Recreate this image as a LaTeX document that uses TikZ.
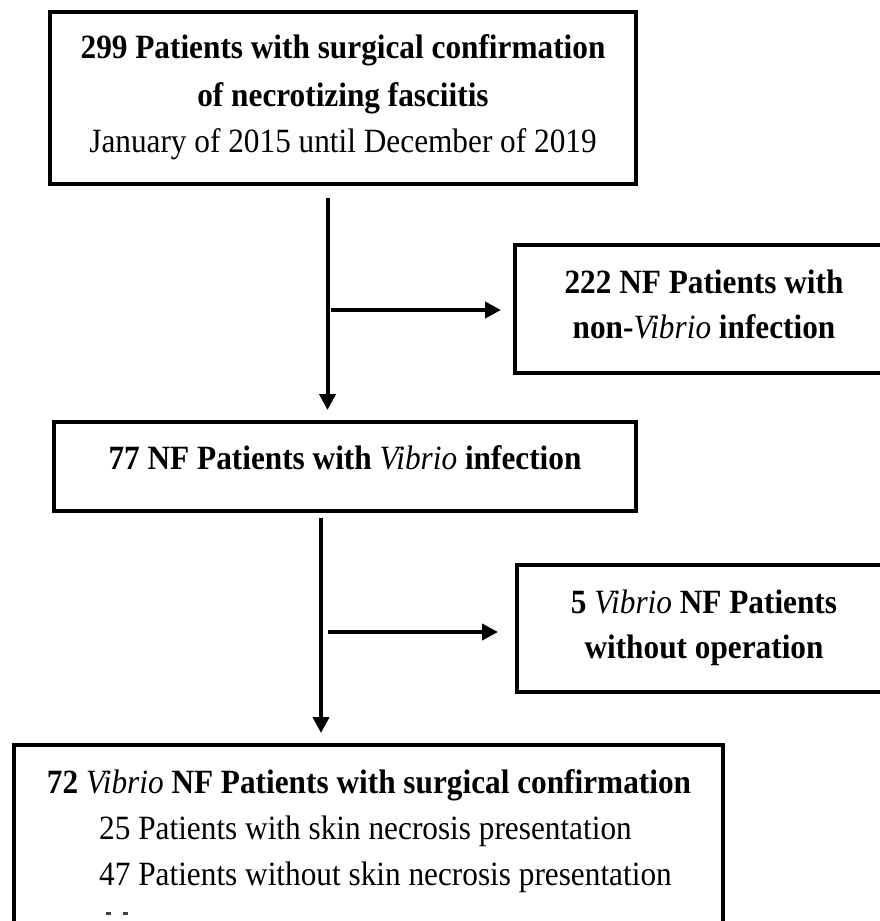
\documentclass[tikz,border=0pt]{standalone}
\usepackage{fontspec}
\setmainfont{Liberation Serif}[FakeStretch=0.92]
\usetikzlibrary{arrows.meta}
\tikzset{
  box/.style={draw=black, line width=4pt, inner sep=0pt, fill=white},
  txt/.style={anchor=base, inner sep=0pt, font=\fontsize{34}{46}\selectfont},
  btxt/.style={txt, font=\fontsize{34}{46}\selectfont\bfseries},
  arr/.style={draw=black, line width=4pt, -{Triangle[length=16pt,width=16pt]}, shorten >=#1},
}
\newcommand{\vib}{{\mdseries\itshape Vibrio}}
\begin{document}
\begin{tikzpicture}[x=1pt,y=-1pt]
\useasboundingbox (0,0) rectangle (880,921);
\clip (0,0) rectangle (880,921);
\fill[white] (0,0) rectangle (880,921);
% boxes
\node[box, minimum width=586pt, minimum height=172pt] (b1) at (343,98) {};
\node[box, minimum width=378pt, minimum height=128pt] (b2) at (704,309) {};
\node[box, minimum width=582pt, minimum height=89pt] (b3) at (345,466.5) {};
\node[box, minimum width=374pt, minimum height=127pt] (b4) at (704,628.5) {};
\node[box, minimum width=709pt, minimum height=185pt] (b5) at (368.5,837.5) {};
% texts
\node[btxt] (t1a) at (343,58) {299 Patients with surgical confirmation};
\node[btxt] (t1b) at (343,106) {of necrotizing fasciitis};
\node[txt] (t1c) at (343,152) {January of 2015 until December of 2019};
\node[btxt] (t2a) at (704,293) {222 NF Patients with};
\node[btxt] (t2b) at (704,338) {non-\vib{} infection};
\node[btxt] (t3) at (345,469) {77 NF Patients with \vib{} infection};
\node[btxt] (t4a) at (704,613) {5 \vib{} NF Patients};
\node[btxt] (t4b) at (704,658) {without operation};
\node[btxt] (t5a) at (369,793) {72 \vib{} NF Patients with surgical confirmation};
\node[txt, anchor=base west] (t5b) at (99,839) {25 Patients with skin necrosis presentation};
\node[txt, anchor=base west] (t5c) at (99,885) {47 Patients without skin necrosis presentation};
% cut-off marks at the bottom edge
\fill[black!75] (106,912) rectangle (111,915);
\fill[black!75] (123,912) rectangle (128,915);
% connectors
\coordinate (a1s) at (327.5,198);
\coordinate (a2s) at (331,310);
\coordinate (a3s) at (321,518);
\coordinate (a4s) at (328,632);
\draw[arr=10pt] (a1s) -- (a1s |- b3.north);
\draw[arr=12pt] (a2s) -- (a2s -| b2.west);
\draw[arr=10pt] (a3s) -- (a3s |- b5.north);
\draw[arr=17pt] (a4s) -- (a4s -| b4.west);
\end{tikzpicture}
\end{document}
